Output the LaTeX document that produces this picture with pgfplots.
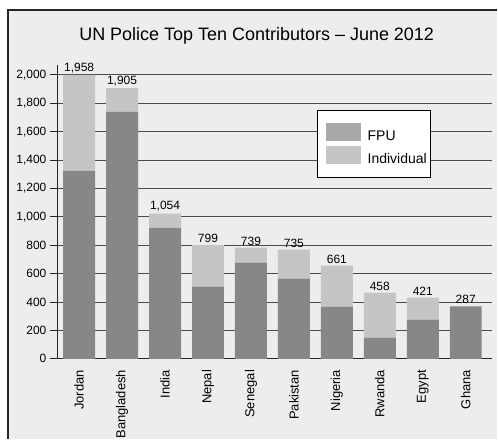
\documentclass[border=0pt]{standalone}
\usepackage{pgfplots}
\pgfplotsset{compat=1.18}
\usepackage{fontspec}
\setmainfont{Liberation Sans}
\definecolor{bgpanel}{HTML}{EDEDED}
\definecolor{fpu}{HTML}{868788}
\definecolor{indiv}{HTML}{C4C6C6}
\definecolor{fpuleg}{HTML}{A9A9A9}
\definecolor{gridc}{HTML}{4A4A4A}

\pgfplotsset{
  panel/.style={
    at={(57.7pt,80.7pt)}, anchor=south west,
    scale only axis, width=435.3pt, height=294.3pt,
    xmin=-0.5, xmax=9.62, ymin=0, ymax=2070,
  },
}

\begin{document}
\begin{tikzpicture}[x=1pt,y=1pt]
\path[fill=white] (0,0) rectangle (498,440);
\fill[bgpanel] (8,0) rectangle (498,430);
\draw[line width=1.3pt, black!85] (8,0) -- (8,430) -- (498,430);
\node[anchor=base, inner sep=0pt, font=\fontsize{18}{20}\selectfont] at (257,399)
  {UN Police Top Ten Contributors – June 2012};
\begin{axis}[
  panel,
  ybar stacked, bar width=32pt,
  xtick=data,
  xticklabels={Jordan,Bangladesh,India,Nepal,Senegal,Pakistan,Nigeria,Rwanda,Egypt,Ghana},
  xtick style={draw=none},
  xticklabel style={rotate=90, anchor=east, font=\fontsize{13}{13}\selectfont},
  ytick={0,200,...,2000},
  yticklabel style={font=\fontsize{12}{12}\selectfont},
  /pgf/number format/assume math mode=true,
  /pgf/number format/1000 sep={,},
  tick align=outside, major tick length=7.7pt,
  y tick style={black!85, line width=1pt},
  axis x line*=bottom, axis y line*=left,
  axis line style={-, black!85, line width=1pt},
  ymajorgrids, major grid style={gridc, line width=0.9pt},
  legend style={at={(0.596,0.845)}, anchor=north west, draw=black, fill=white,
    line width=0.8pt, font=\fontsize{14}{16}\selectfont,
    inner xsep=4pt, inner ysep=12pt, row sep=4.3pt, column sep=6.6pt,
    nodes={inner sep=0pt}},
  legend cell align=left,
]
\addplot[fill=fpu, draw=none,
  legend image code/.code={\path[fill=none, draw=none] (0pt,-4.7pt) rectangle (40pt,13.3pt);
    \fill[fpuleg] (5pt,-4.7pt) rectangle (40pt,13.3pt);}]
  coordinates {(0,1324) (1,1739) (2,923) (3,508) (4,677) (5,565) (6,368) (7,150) (8,276) (9,370)};
\addplot[fill=indiv, draw=none,
  legend image code/.code={\path[fill=none, draw=none] (0pt,-4.7pt) rectangle (40pt,13.3pt);
    \fill[indiv] (5pt,-4.7pt) rectangle (40pt,13.3pt);}]
  coordinates {(0,676) (1,167) (2,99) (3,293) (4,106) (5,204) (6,288) (7,316) (8,155) (9,0)};
\legend{FPU, Individual}
\end{axis}
% value labels above each bar
\begin{axis}[panel, hide axis]
\addplot[only marks, mark=none, nodes near coords, point meta=explicit symbolic,
  every node near coord/.append style={font=\fontsize{12}{12}\selectfont,
    anchor=south, inner sep=2pt}]
  coordinates {(0,2000)[1,958] (1,1906)[1,905] (2,1022)[1,054] (3,801)[799] (4,783)[739]
    (5,769)[735] (6,656)[661] (7,466)[458] (8,431)[421] (9,370)[287]};
\end{axis}
\end{tikzpicture}
\end{document}
